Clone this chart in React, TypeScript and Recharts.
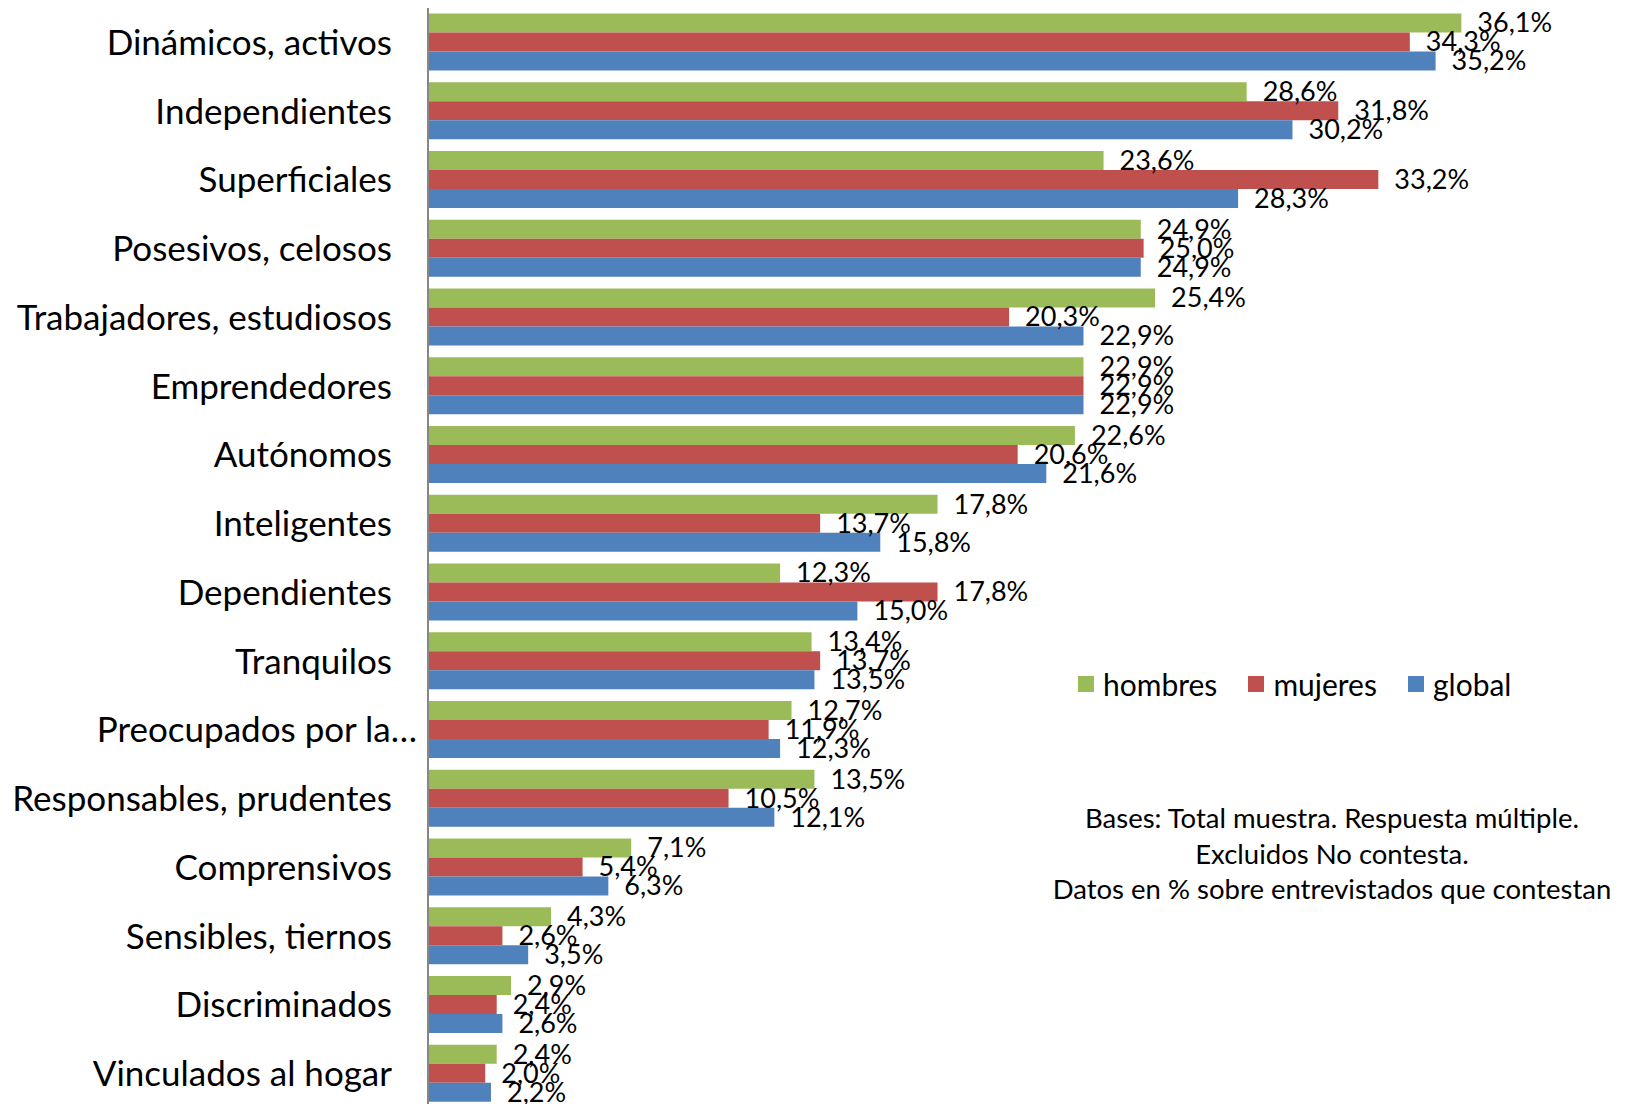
import { BarChart, Bar, XAxis, YAxis, Legend, LabelList } from "recharts";

const categories = [
  "Dinámicos, activos",
  "Independientes",
  "Superficiales",
  "Posesivos, celosos",
  "Trabajadores, estudiosos",
  "Emprendedores",
  "Autónomos",
  "Inteligentes",
  "Dependientes",
  "Tranquilos",
  "Preocupados por la…",
  "Responsables, prudentes",
  "Comprensivos",
  "Sensibles, tiernos",
  "Discriminados",
  "Vinculados al hogar",
];

const hombres = [36.1, 28.6, 23.6, 24.9, 25.4, 22.9, 22.6, 17.8, 12.3, 13.4, 12.7, 13.5, 7.1, 4.3, 2.9, 2.4];
const mujeres = [34.3, 31.8, 33.2, 25.0, 20.3, 22.9, 20.6, 13.7, 17.8, 13.7, 11.9, 10.5, 5.4, 2.6, 2.4, 2.0];
const global = [35.2, 30.2, 28.3, 24.9, 22.9, 22.9, 21.6, 15.8, 15.0, 13.5, 12.3, 12.1, 6.3, 3.5, 2.6, 2.2];

const series = [
  { key: "hombres", color: "#9BBB59" },
  { key: "mujeres", color: "#C0504D" },
  { key: "global", color: "#4F81BD" },
];

const notes = [
  "Bases: Total muestra. Respuesta múltiple.",
  "Excluidos No contesta.",
  "Datos en % sobre entrevistados que contestan",
];

const data = categories.map((name, i) => ({
  name,
  hombres: hombres[i],
  mujeres: mujeres[i],
  global: global[i],
}));

const FONT = "Lato, sans-serif";

const fmt = (v: any) => Number(v).toFixed(1).replace(".", ",") + "%";

// Excel pushes the truncated label a bit further right than the others
function CategoryTick({ x, y, payload }: any) {
  const truncated = String(payload.value).endsWith("…");
  return (
    <text
      x={truncated ? x + 25 : x}
      y={y}
      dy="0.355em"
      textAnchor="end"
      fill="#000"
      fontSize={35}
      fontFamily={FONT}
    >
      {payload.value}
    </text>
  );
}

function LegendBox() {
  return (
    <div style={{ display: "flex", alignItems: "center", fontFamily: FONT, fontSize: 30, lineHeight: "36px", color: "#000", whiteSpace: "nowrap" }}>
      {series.map((s) => (
        <div key={s.key} style={{ display: "flex", alignItems: "center", marginRight: 31 }}>
          <span style={{ display: "inline-block", width: 16, height: 16, background: s.color, marginRight: 9 }} />
          <span>{s.key}</span>
        </div>
      ))}
    </div>
  );
}

export default function App() {
  return (
    <div style={{ position: "fixed", left: 0, top: 0, width: 1628, height: 1104, overflow: "hidden", background: "#fff" }}>
      <BarChart
        layout="vertical"
        width={1628}
        height={1108}
        data={data}
        margin={{ top: 8, right: 55, bottom: 0, left: 0 }}
        barGap={0}
        barCategoryGap={5.4}
      >
        <XAxis type="number" domain={[0, 40]} hide />
        <YAxis
          type="category"
          dataKey="name"
          width={428}
          interval={0}
          tickLine={false}
          tickSize={0}
          tickMargin={36}
          axisLine={{ stroke: "#868686", strokeWidth: 2 }}
          tick={<CategoryTick />}
        />
        <Legend
          layout="horizontal"
          align="center"
          verticalAlign="middle"
          content={<LegendBox />}
          wrapperStyle={{ position: "absolute", left: 1078, top: 666, width: "auto" }}
        />
        {series.map((s) => (
          <Bar key={s.key} dataKey={s.key} fill={s.color} isAnimationActive={false}>
            <LabelList
              dataKey={s.key}
              position="right"
              offset={16}
              formatter={fmt}
              style={{ fontSize: 27, fill: "#000", fontFamily: FONT }}
            />
          </Bar>
        ))}
      </BarChart>
      <div
        style={{
          position: "absolute",
          left: 1032,
          top: 800,
          width: 600,
          textAlign: "center",
          fontFamily: FONT,
          fontSize: 27.5,
          lineHeight: "35.5px",
          color: "#000",
          whiteSpace: "nowrap",
        }}
      >
        {notes.map((n) => (
          <div key={n}>{n}</div>
        ))}
      </div>
    </div>
  );
}
